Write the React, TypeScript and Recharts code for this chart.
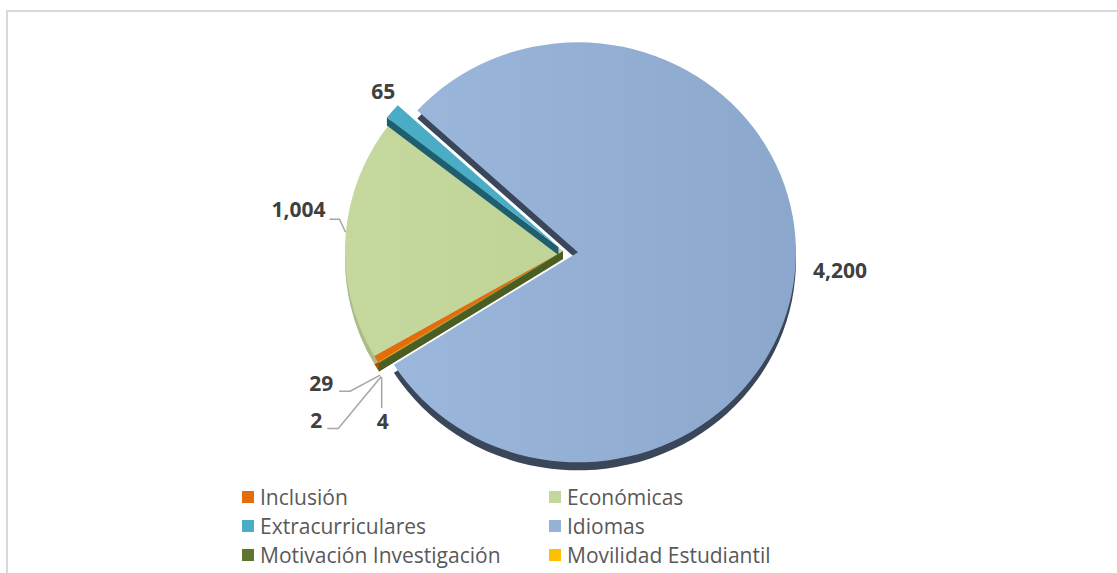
import React from 'react';
import { PieChart, Pie, Cell, Legend } from 'recharts';

// Categories / values
const categories = [
  'Inclusión',
  'Económicas',
  'Extracurriculares',
  'Idiomas',
  'Motivación Investigación',
  'Movilidad Estudiantil',
];
const values = [29, 1004, 65, 4200, 4, 2];
const labelTexts = ['29', '1,004', '65', '4,200', '4', '2'];

const colors = ['#E46C0A', '#C3D69B', '#4BACC6', '#95B3D7', '#5F7530', '#FFC000'];
const sideColors = ['#A9520A', '#ABBC88', '#1F5E6E', '#3A4659', '#4A5E24', '#B98B00'];
const fills = ['#E46C0A', 'url(#gEco)', '#4BACC6', 'url(#gIdi)', '#5F7530', '#FFC000'];

const data = categories.map((name, i) => ({ name, value: values[i] }));

// layout
const CX = 563;
const CY = 251;
const RX = 218;
const RY = 210;
const DEPTH = 8;
const EXPLODE: Record<string, number> = { Idiomas: 15, Extracurriculares: 6 };
// slices whose start-edge wall shows (gap next to them)
const WALL_START = new Set(['Extracurriculares', 'Motivación Investigación']);
const RAD = Math.PI / 180;
const FONT = '"Open Sans", Lato, sans-serif';

// leader line / label placement relative to the arc point of each slice
const LABEL_LAYOUT: Record<string, { line: number[][]; tx: number; ty: number; anchor: string }> = {
  Inclusión: { line: [[4, 16], [-26, 32], [-37, 32]], tx: -43, ty: 32, anchor: 'end' },
  Económicas: { line: [[0, -4], [-6, -17], [-16, -17]], tx: -20, ty: -19, anchor: 'end' },
  Extracurriculares: { line: [], tx: -9, ty: -12, anchor: 'middle' },
  Idiomas: { line: [], tx: 18, ty: 7, anchor: 'start' },
  'Motivación Investigación': { line: [[3, 14], [3, 45]], tx: 4, ty: 66, anchor: 'middle' },
  'Movilidad Estudiantil': { line: [[3, 14], [-40, 66], [-51, 66]], tx: -56, ty: 66, anchor: 'end' },
};

const explodeOffset = (name: string, mid: number) => {
  const off = EXPLODE[name] || 0;
  return [off * Math.cos(mid * RAD), -off * Math.sin(mid * RAD)];
};

const arcPt = (cx: number, cy: number, a: number) => [cx + RX * Math.cos(a * RAD), cy - RY * Math.sin(a * RAD)];

const slicePath = (cx: number, cy: number, sa: number, ea: number) => {
  const [x1, y1] = arcPt(cx, cy, sa);
  const [x2, y2] = arcPt(cx, cy, ea);
  const large = Math.abs(sa - ea) > 180 ? 1 : 0;
  const sweep = sa > ea ? 1 : 0;
  return `M${cx},${cy} L${x1},${y1} A${RX},${RY} 0 ${large} ${sweep} ${x2},${y2} Z`;
};

const sideShape = (props: any) => {
  const { cx, cy, startAngle, endAngle, fill, midAngle } = props;
  const name = props.payload?.name ?? props.name;
  const [dx, dy] = explodeOffset(name, midAngle);
  return <path d={slicePath(cx + dx, cy + dy + DEPTH, startAngle, endAngle)} fill={fill} stroke="none" />;
};

const topShape = (props: any) => {
  const { cx, cy, startAngle, endAngle, fill, midAngle, index } = props;
  const name = props.payload?.name ?? props.name;
  const [dx, dy] = explodeOffset(name, midAngle);
  const ox = cx + dx;
  const oy = cy + dy;
  let wall = null;
  if (WALL_START.has(name)) {
    const [ax, ay] = arcPt(ox, oy, startAngle);
    const pts = `${ox},${oy} ${ax},${ay} ${ax},${ay + DEPTH} ${ox},${oy + DEPTH}`;
    wall = <polygon points={pts} fill={sideColors[categories.indexOf(name)]} />;
  }
  return (
    <g key={`top-${index}`}>
      {wall}
      <path d={slicePath(ox, oy, startAngle, endAngle)} fill={fill} stroke="none" />
    </g>
  );
};

const renderLabel = (props: any) => {
  const { cx, cy, midAngle, index } = props;
  const name = categories[index];
  const [dx, dy] = explodeOffset(name, midAngle);
  const [px, py] = arcPt(cx + dx, cy + dy, midAngle);
  const lay = LABEL_LAYOUT[name];
  const pts = lay.line.map(([a, b]) => `${px + a},${py + b}`).join(' ');
  return (
    <g key={`lbl-${index}`}>
      {lay.line.length > 0 && <polyline points={pts} fill="none" stroke="#A6A6A6" strokeWidth={1.5} />}
      <text
        x={px + lay.tx}
        y={py + lay.ty}
        textAnchor={lay.anchor as any}
        fill="#404040"
        fontFamily={FONT}
        fontWeight={700}
        fontSize={21}
      >
        {labelTexts[index]}
      </text>
    </g>
  );
};

const renderLegend = (props: any) => {
  const names = new Set((props.payload || []).map((p: any) => p.value));
  const items = categories.filter((c) => names.has(c));
  return (
    <div style={{ position: 'relative', width: 1117, height: 90 }}>
      {items.map((name, i) => {
        const col = i % 2;
        const row = Math.floor(i / 2);
        return (
          <div
            key={name}
            style={{
              position: 'absolute',
              left: col === 0 ? 242 : 549,
              top: row * 29,
              height: 28,
              display: 'flex',
              alignItems: 'center',
              whiteSpace: 'nowrap',
            }}
          >
            <span style={{ width: 12, height: 12, background: colors[categories.indexOf(name)], marginRight: 6 }} />
            <span style={{ fontFamily: FONT, fontSize: 21, color: '#595959' }}>{name}</span>
          </div>
        );
      })}
    </div>
  );
};

export default function App() {
  return (
    <div style={{ position: 'fixed', left: 0, top: 0, width: 1117, height: 573, overflow: 'hidden', background: '#fff' }}>
      <div style={{ position: 'absolute', left: 0, top: 0 }}>
        <PieChart width={1117} height={573} margin={{ top: 0, right: 0, bottom: 0, left: 0 }}>
          <defs>
            <linearGradient id="gIdi" x1="0" y1="0" x2="1" y2="0">
              <stop offset="0%" stopColor="#9BB7DB" />
              <stop offset="100%" stopColor="#8BA7CC" />
            </linearGradient>
            <linearGradient id="gEco" x1="0" y1="0" x2="1" y2="0">
              <stop offset="0%" stopColor="#C5D89E" />
              <stop offset="100%" stopColor="#C1D497" />
            </linearGradient>
          </defs>
          <Pie
            data={data}
            dataKey="value"
            nameKey="name"
            cx={CX}
            cy={CY}
            outerRadius={RX}
            startAngle={-148}
            endAngle={-508}
            isAnimationActive={false}
            legendType="none"
            shape={sideShape}
            inactiveShape={sideShape}
            activeShape={sideShape}
            stroke="none"
          >
            {data.map((d, i) => (
              <Cell key={`s-${d.name}`} fill={sideColors[i]} />
            ))}
          </Pie>
          <Pie
            data={data}
            dataKey="value"
            nameKey="name"
            cx={CX}
            cy={CY}
            outerRadius={RX}
            startAngle={-148}
            endAngle={-508}
            isAnimationActive={false}
            shape={topShape}
            inactiveShape={topShape}
            activeShape={topShape}
            label={renderLabel}
            labelLine={false}
            stroke="none"
          >
            {data.map((d, i) => (
              <Cell key={`c-${d.name}`} fill={fills[i]} />
            ))}
          </Pie>
          <Legend
            content={renderLegend}
            wrapperStyle={{ position: 'absolute', left: 0, top: 483, width: 1117, height: 90 }}
          />
        </PieChart>
      </div>
      <div
        style={{
          position: 'absolute',
          left: 6,
          top: 10,
          width: 1200,
          height: 700,
          border: '2px solid #D9D9D9',
          boxSizing: 'border-box',
          pointerEvents: 'none',
        }}
      />
    </div>
  );
}
